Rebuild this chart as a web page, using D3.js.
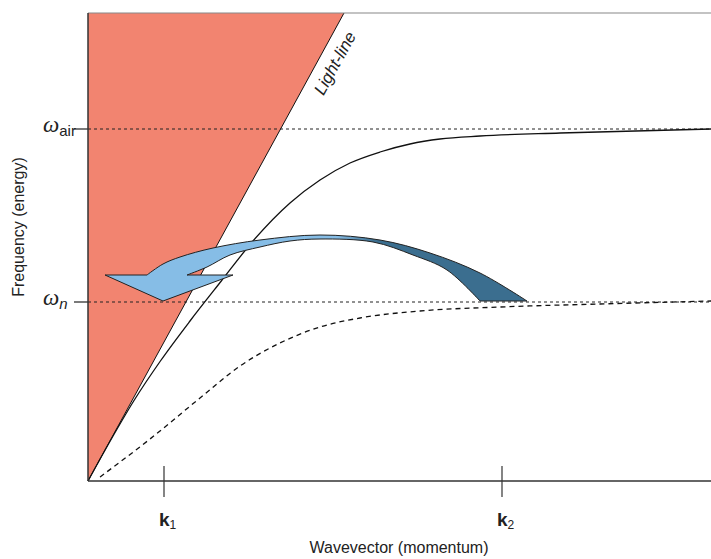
<!DOCTYPE html>
<html>
<head>
<meta charset="utf-8">
<script src="https://cdn.jsdelivr.net/npm/d3@7"></script>
<style>
  body { margin: 0; background: #fff; }
  text { font-family: "Liberation Sans Narrow", "Liberation Sans", Arial, sans-serif; fill: #222; }
</style>
</head>
<body>
<div id="chart"></div>
<script>
// data in chart units (wavevector, frequency)
const kMax = 6.23;
const wMax = 4.68;
const lightLine = [[0, 0], [2.56, 4.68]];
const polariton = [[0, 0], [0.222, 0.40], [0.457, 0.80], [0.724, 1.20], [1.02, 1.60], [1.333, 2.00],
  [1.65, 2.40], [2.02, 2.78], [2.32, 3.01], [2.62, 3.18], [2.92, 3.29], [3.22, 3.37], [3.52, 3.42],
  [3.92, 3.45], [4.72, 3.48], [6.23, 3.52]];
const guided = [[0.12, 0.04], [0.62, 0.42], [1.12, 0.83], [1.52, 1.15], [1.92, 1.38], [2.32, 1.54],
  [2.72, 1.63], [3.32, 1.70], [4.12, 1.74], [5.12, 1.77], [6.23, 1.80]];
const levels = [{ name: 'air', value: 3.52, italic: false }, { name: 'n', value: 1.79, italic: true }];
const kTicks = [{ name: '1', value: 0.76 }, { name: '2', value: 4.14 }];
// scattering arrow (head, inner edge, outer edge)
const arrowHead = [[0.59, 2.06], [0.17, 2.06], [0.75, 1.80], [1.45, 2.06], [0.99, 2.06]];
const arrowInner = [[0.99, 2.06], [1.19, 2.14], [1.42, 2.26], [1.72, 2.34], [2.02, 2.40], [2.32, 2.42],
  [2.85, 2.39], [3.25, 2.26], [3.59, 2.11], [3.92, 1.80]];
const arrowOuter = [[4.39, 1.80], [3.92, 2.08], [3.42, 2.28], [2.92, 2.41], [2.32, 2.46], [1.72, 2.41],
  [1.25, 2.33], [0.92, 2.24], [0.75, 2.17], [0.59, 2.06]];

document.addEventListener('DOMContentLoaded', function() {
  drawChart();
});

function drawChart() {
  const svg = d3.select('#chart').append('svg').attr('width', 711).attr('height', 559);

  const x = d3.scaleLinear().domain([0, kMax]).range([88, 711]);
  const y = d3.scaleLinear().domain([0, wMax]).range([481, 13]);

  // region left of the light line
  svg.append('polygon')
    .attr('points', [[x(0), y(0)], [x(0), y(wMax)], [x(lightLine[1][0]), y(lightLine[1][1])]].join(' '))
    .attr('fill', '#f28470');

  // dotted frequency levels
  levels.forEach(function(d) {
    svg.append('line')
      .attr('x1', x(0)).attr('x2', x(kMax))
      .attr('y1', y(d.value)).attr('y2', y(d.value))
      .attr('stroke', '#222').attr('stroke-width', 1).attr('stroke-dasharray', '3,3');
    svg.append('line')
      .attr('x1', x(0) - 14).attr('x2', x(0))
      .attr('y1', y(d.value)).attr('y2', y(d.value))
      .attr('stroke', '#222').attr('stroke-width', 1.2);
    const t = svg.append('text').attr('x', 43).attr('y', y(d.value) + 3);
    t.append('tspan').text('ω')
      .style('font-family', '"Liberation Serif", "DejaVu Serif", serif')
      .style('font-style', 'italic').style('font-size', '23px');
    t.append('tspan').text(d.name).attr('dy', 4)
      .style('font-style', d.italic ? 'italic' : 'normal').style('font-size', '15px');
  });

  const line = d3.line().x(function(d) { return x(d[0]); }).y(function(d) { return y(d[1]); });

  svg.append('path').datum(lightLine).attr('d', line)
    .attr('fill', 'none').attr('stroke', '#111').attr('stroke-width', 1);

  svg.append('path').datum(polariton).attr('d', line.curve(d3.curveMonotoneX))
    .attr('fill', 'none').attr('stroke', '#111').attr('stroke-width', 1.3);

  svg.append('path').datum(guided).attr('d', line.curve(d3.curveMonotoneX))
    .attr('fill', 'none').attr('stroke', '#111').attr('stroke-width', 1.3).attr('stroke-dasharray', '5,4');

  // arrow
  const grad = svg.append('defs').append('linearGradient').attr('id', 'arrowGrad')
    .attr('gradientUnits', 'userSpaceOnUse')
    .attr('x1', x(0.17)).attr('x2', x(4.39)).attr('y1', 0).attr('y2', 0);
  grad.append('stop').attr('offset', 0.55).attr('stop-color', '#86bde6');
  grad.append('stop').attr('offset', 0.64).attr('stop-color', '#3b6e8f');

  const straight = d3.line().x(function(d) { return x(d[0]); }).y(function(d) { return y(d[1]); });
  const smooth = d3.line().x(function(d) { return x(d[0]); }).y(function(d) { return y(d[1]); }).curve(d3.curveCatmullRom);
  let arrowPath = straight(arrowHead);
  arrowPath += 'L' + smooth(arrowInner).slice(1);
  arrowPath += 'L' + smooth(arrowOuter).slice(1) + 'Z';
  svg.append('path').attr('d', arrowPath)
    .attr('fill', 'url(#arrowGrad)').attr('stroke', '#222').attr('stroke-width', 1).attr('stroke-linejoin', 'miter');

  // frame
  svg.append('line').attr('x1', x(0)).attr('x2', x(kMax)).attr('y1', y(wMax)).attr('y2', y(wMax))
    .attr('stroke', '#888').attr('stroke-width', 1.2);
  svg.append('line').attr('x1', x(0)).attr('x2', x(0)).attr('y1', y(0)).attr('y2', y(wMax))
    .attr('stroke', '#333').attr('stroke-width', 1.5);
  svg.append('line').attr('x1', x(0)).attr('x2', x(kMax)).attr('y1', y(0)).attr('y2', y(0))
    .attr('stroke', '#333').attr('stroke-width', 1.5);

  // k ticks
  kTicks.forEach(function(d) {
    svg.append('line').attr('x1', x(d.value)).attr('x2', x(d.value)).attr('y1', y(0) - 15).attr('y2', y(0) + 16)
      .attr('stroke', '#333').attr('stroke-width', 1.2);
    const t = svg.append('text').attr('x', x(d.value) - 5).attr('y', 526);
    t.append('tspan').text('k').style('font-weight', 'bold').style('font-size', '19px');
    t.append('tspan').text(d.name).attr('dy', 3).style('font-size', '12px');
  });

  // labels
  const angle = -Math.atan2(y(0) - y(wMax), x(lightLine[1][0]) - x(0)) * 180 / Math.PI;
  svg.append('text')
    .attr('transform', 'translate(340,66) rotate(' + angle + ')')
    .attr('text-anchor', 'middle')
    .style('font-style', 'italic').style('font-size', '17px')
    .text('Light-line');

  svg.append('text').attr('x', 399).attr('y', 553).attr('text-anchor', 'middle')
    .style('font-size', '16px').text('Wavevector (momentum)');

  svg.append('text').attr('transform', 'translate(24,227) rotate(-90)').attr('text-anchor', 'middle')
    .style('font-size', '16px').text('Frequency (energy)');
}
</script>
</body>
</html>
